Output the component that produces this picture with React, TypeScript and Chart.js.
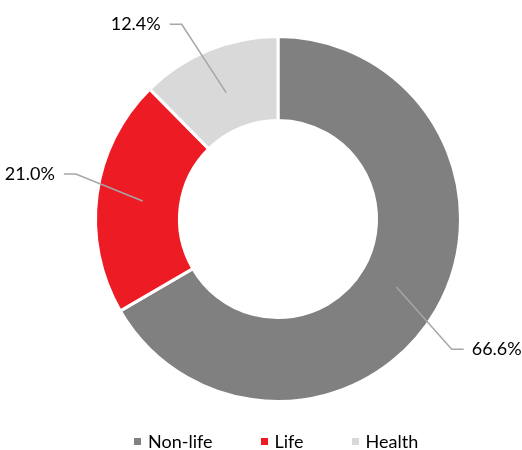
import React, { useEffect, useRef } from "react";
import { Chart, registerables } from "chart.js";

Chart.register(...registerables);

const categories = ["Non-life", "Life", "Health"];
const shares = [66.6, 21.0, 12.4];
const colors = ["#808080", "#ED1C24", "#D9D9D9"];
const labelAngleShift = [7, 5, -4];
const labelRadiusFactor = [1.19, 1.135, 1.19];

const FONT = "Lato, 'Open Sans', sans-serif";

const leaderPlugin = {
  id: "leaders",
  afterDraw(chart: any) {
    const ctx = chart.ctx;
    const meta = chart.getDatasetMeta(0);
    meta.data.forEach((arc: any, i: number) => {
      const { x, y, startAngle, endAngle, innerRadius, outerRadius } = arc.getProps(
        ["x", "y", "startAngle", "endAngle", "innerRadius", "outerRadius"],
        true
      );
      const mid = (startAngle + endAngle) / 2;
      const rIn = (innerRadius + outerRadius) / 2 - 4;
      const p0x = x + Math.cos(mid) * rIn;
      const p0y = y + Math.sin(mid) * rIn;
      const a2 = mid + (labelAngleShift[i] * Math.PI) / 180;
      const r2 = outerRadius * labelRadiusFactor[i];
      const p1x = x + Math.cos(a2) * r2;
      const p1y = y + Math.sin(a2) * r2;
      const right = Math.cos(a2) >= 0;
      const p2x = p1x + (right ? 12 : -12);
      ctx.save();
      ctx.strokeStyle = "#A6A6A6";
      ctx.lineWidth = 1.5;
      ctx.beginPath();
      ctx.moveTo(p0x, p0y);
      ctx.lineTo(p1x, p1y);
      ctx.lineTo(p2x, p1y);
      ctx.stroke();
      ctx.fillStyle = "#000000";
      ctx.font = `18px ${FONT}`;
      ctx.textBaseline = "middle";
      ctx.textAlign = right ? "left" : "right";
      ctx.fillText(shares[i].toFixed(1) + "%", p2x + (right ? 8 : -9), p1y);
      ctx.restore();
    });
  },
};

export default function App() {
  const ref = useRef<HTMLCanvasElement>(null);
  useEffect(() => {
    if (!ref.current) return;
    const chart = new Chart(ref.current, {
      type: "doughnut",
      data: {
        labels: categories,
        datasets: [
          {
            data: shares,
            backgroundColor: colors,
            borderColor: "#FFFFFF",
            borderWidth: 3,
          },
        ],
      },
      options: {
        animation: false,
        responsive: false,
        cutout: "54%",
        layout: { padding: { left: 58, right: 24, top: 35, bottom: 47 } },
        plugins: {
          legend: { display: false },
          tooltip: { enabled: false },
        },
      },
      plugins: [leaderPlugin],
    });
    return () => chart.destroy();
  }, []);

  return (
    <div style={{ position: "fixed", left: 0, top: 0, width: 522, height: 450, background: "#fff" }}>
      <canvas ref={ref} width={522} height={450} style={{ width: 522, height: 450, display: "block" }} />
      <div
        style={{
          position: "absolute",
          left: 134,
          top: 430,
          display: "flex",
          alignItems: "center",
          fontFamily: FONT,
          fontSize: 18,
          color: "#000",
          lineHeight: "22px",
        }}
      >
        {categories.map((c, i) => (
          <div key={c} style={{ display: "flex", alignItems: "center", marginRight: 48 }}>
            <span style={{ width: 7, height: 7, background: colors[i], display: "inline-block", marginRight: 7 }} />
            <span>{c}</span>
          </div>
        ))}
      </div>
    </div>
  );
}
